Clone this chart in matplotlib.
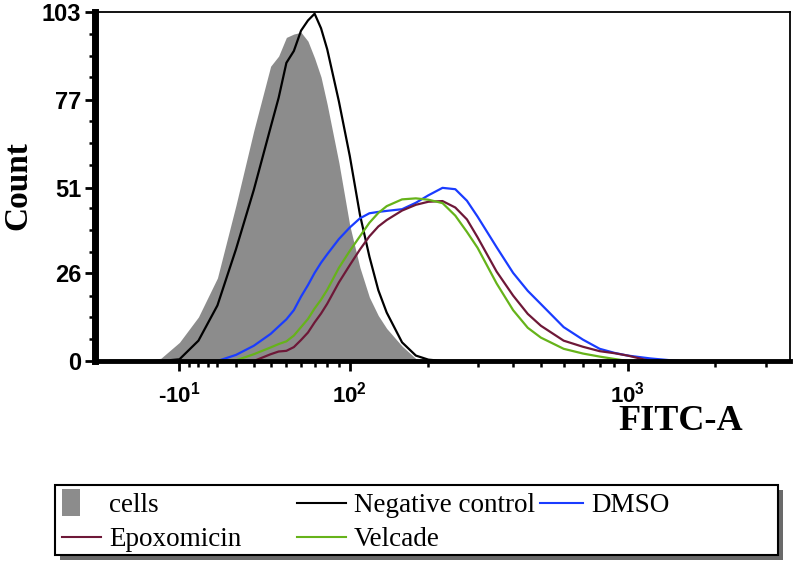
import numpy as np
import matplotlib
matplotlib.use('Agg')
import matplotlib.pyplot as plt
from matplotlib.patches import Patch, Rectangle
from matplotlib.lines import Line2D
from matplotlib.legend_handler import HandlerPatch

plt.rcParams['mathtext.default'] = 'regular'

# FITC-A fluorescence values (x) and counts per population
fitc = [-50, -40, -30, -20, -10, 0, 10, 20, 30, 40, 45, 50, 55, 60, 65, 70, 75, 80, 90, 100,
        110, 120, 130, 140, 160, 180, 200, 225, 250, 275, 300, 350, 400, 450, 500,
        600, 700, 800, 900, 1000, 1200, 1500]

cells = [0, 0, 0, 0.8, 5.5, 13, 24.5, 46, 68, 87, 90, 95.5, 96.5, 97, 94.4, 89.4, 83.8, 75.7, 58.5, 40,
         27.6, 18.8, 13.4, 9.6, 4.4, 0.7, 0, 0, 0, 0, 0, 0, 0, 0, 0,
         0, 0, 0, 0, 0, 0, 0]
neg_control = [0, 0, 0, 0, 0.5, 6, 16.4, 33, 50.5, 69, 77.7, 88, 91.5, 97.5, 100.5, 102.5, 98.2, 92, 76.6, 60.5,
               43.2, 30.8, 20.9, 14.3, 5.5, 1.6, 0.4, 0, 0, 0, 0, 0, 0, 0, 0,
               0, 0, 0, 0, 0, 0, 0]
dmso = [0, 0, 0, 0, 0, 0, 0, 1.8, 4.5, 8, 10.2, 12.3, 15, 19, 22.4, 26, 29, 31.5, 36, 39.4,
        42.1, 43.6, 44, 44.3, 44.8, 46.7, 48.9, 51.1, 50.7, 47.3, 42.6, 33.6, 26, 20.7, 16.8,
        10, 6.3, 3.6, 2.4, 1.6, 0.75, 0]
epoxomicin = [0, 0, 0, 0, 0, 0, 0, 0, 0, 2, 2.8, 3, 4.1, 6.2, 8.4, 11.4, 14, 16.9, 23.2, 28.3,
              32.9, 36.8, 39.7, 41.6, 44.4, 46.1, 47, 47.2, 45.3, 41.8, 36.5, 26.4, 19.3, 13.9, 10.4,
              6, 4.2, 2.9, 2.3, 1.6, 0, 0]
velcade = [0, 0, 0, 0, 0, 0, 0, 0.2, 2, 4, 5, 5.8, 7.5, 10, 12.4, 15.5, 18.1, 21, 27.5, 32.5,
           36.8, 40.8, 43.7, 45.7, 47.7, 48, 47.6, 46.6, 42.9, 38.1, 33.4, 22.9, 15, 9.8, 6.9,
           3.6, 2.2, 1.3, 0.6, 0, 0, 0]

x_major = [-10, 100, 1000]
x_major_labels = ['-10$^{1}$', '10$^{2}$', '10$^{3}$']
x_minor = [-5, 0, 5, 10, 20, 30, 40, 50, 60, 70, 80, 90,
           200, 300, 400, 500, 600, 700, 800, 900, 2000, 3000]
y_major = [0, 26, 51, 77, 103]

C_CELLS = '#8c8c8c'
C_NEG = 'black'
C_DMSO = '#1a3cff'
C_EPOX = '#6e1838'
C_VELC = '#66b31a'

W, H = 793, 566
fig = plt.figure(figsize=(W / 100, H / 100), dpi=100)
ax = fig.add_axes([95 / W, 1 - 361 / H, (790 - 95) / W, (361 - 12) / H])

ax.set_xscale('asinh', linear_width=66)
ax.set_xlim(-60.6, 3638)
ax.set_ylim(0, 103)

ax.fill_between(fitc, cells, 0, color=C_CELLS, linewidth=0, zorder=1)
lw = 1.6
ax.plot(fitc, neg_control, color=C_NEG, lw=lw, zorder=3)
ax.plot(fitc, dmso, color=C_DMSO, lw=lw, zorder=3)
ax.plot(fitc, epoxomicin, color=C_EPOX, lw=lw, zorder=3)
ax.plot(fitc, velcade, color=C_VELC, lw=lw, zorder=3)

for s in ['top', 'right']:
    ax.spines[s].set_linewidth(1.3)
ax.spines['left'].set_linewidth(5)
ax.spines['bottom'].set_linewidth(3.5)
for s in ax.spines.values():
    s.set_zorder(4)

ax.set_xticks(x_major)
ax.set_xticklabels(x_major_labels)
ax.set_xticks(x_minor, minor=True)
ax.xaxis.set_minor_formatter(matplotlib.ticker.NullFormatter())
ax.set_yticks(y_major)
ax.set_yticklabels([str(v) for v in y_major])
ax.set_yticks([v for v in np.linspace(0, 103, 17) if min(abs(v - m) for m in y_major) > 1], minor=True)

for lab in ax.get_xticklabels():
    lab.set_family('Liberation Sans')
    lab.set_weight('bold')
    lab.set_size(16)
for lab in ax.get_yticklabels():
    lab.set_family('Liberation Sans')
    lab.set_weight('bold')
    lab.set_size(17)
ax.tick_params(axis='both', which='major', length=7, width=2, color='black')
ax.tick_params(axis='both', which='minor', length=4, width=1.8, color='black')
ax.tick_params(axis='x', which='major', pad=8)
ax.tick_params(axis='y', which='major', pad=3)

fig.text(18 / W, 1 - 186 / H, 'Count', rotation=90, ha='center', va='center',
         family='Liberation Serif', weight='bold', size=24)
fig.text(681 / W, 1 - 422 / H, 'FITC-A', ha='center', va='center',
         family='Liberation Serif', weight='bold', size=26)

# legend: frame with shadow + three fixed-width columns
shadow = Rectangle((60 / W, 1 - 560 / H), 723 / W, 70 / H, transform=fig.transFigure,
                   facecolor='#6a6a6a', edgecolor='none', zorder=0)
frame = Rectangle((55 / W, 1 - 555 / H), 723 / W, 70 / H, transform=fig.transFigure,
                  facecolor='white', edgecolor='black', linewidth=1.5, zorder=1)
fig.add_artist(shadow)
fig.add_artist(frame)


def square_patch(legend, orig_handle, xdescent, ydescent, width, height, fontsize):
    return Rectangle((-xdescent, -ydescent + height / 2 - 10), 13, 20)


legend_font = dict(family='Liberation Serif', size=19.5)
columns = [
    ([Patch(facecolor=C_CELLS, edgecolor='none', label='cells'),
      Line2D([], [], color=C_EPOX, lw=1.5, label='Epoxomicin')], 62, 1.45),
    ([Line2D([], [], color=C_NEG, lw=1.5, label='Negative control'),
      Line2D([], [], color=C_VELC, lw=1.5, label='Velcade')], 297, 1.8),
    ([Line2D([], [], color=C_DMSO, lw=1.5, label='DMSO')], 540, 1.6),
]
for handles, x0, hl in columns:
    lg = fig.legend(handles=handles, loc='upper left',
                    bbox_to_anchor=(x0 / W, 1 - 493 / H), frameon=False,
                    prop=legend_font, handlelength=hl, handletextpad=0.3,
                    borderpad=0, borderaxespad=0, labelspacing=0.35,
                    handler_map={Patch: HandlerPatch(patch_func=square_patch)})
    lg.set_zorder(2)

fig.savefig('out.png', dpi=100)
